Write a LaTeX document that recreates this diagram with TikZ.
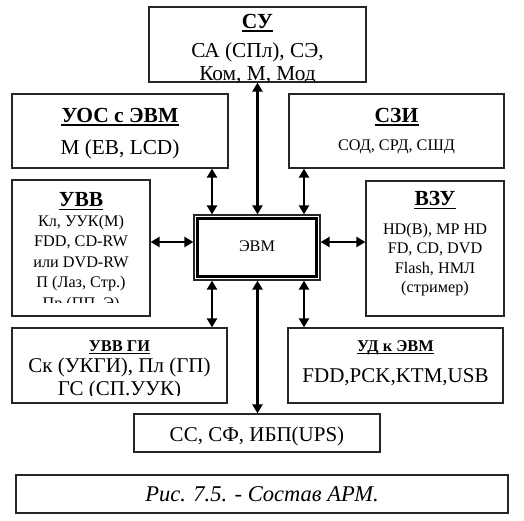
\documentclass[tikz,border=0pt]{standalone}
\usepackage{fontspec}
\setmainfont{Liberation Serif}
\usetikzlibrary{arrows.meta}
\begin{document}
\begin{tikzpicture}[x=1pt,y=-1pt,
  box/.style={draw=black!85, line width=1.2pt, fill=white, inner sep=0pt, rectangle},
  txt/.style={inner sep=0pt, anchor=base, text=black},
  big/.style={font=\fontsize{21.3}{25}\selectfont},
  mid/.style={font=\fontsize{21}{25}\selectfont},
  small/.style={font=\fontsize{16.2}{19}\selectfont},
  bigb/.style={font=\fontsize{21.5}{25}\selectfont\bfseries},
  smallb/.style={font=\fontsize{16.4}{19}\selectfont\bfseries},
  uline/.style={line width=1.6pt},
  ulinesm/.style={line width=1.2pt},
  arr/.style={line width=2.2pt, {Triangle[length=9pt,width=10pt]}-{Triangle[length=9pt,width=10pt]}}]
\useasboundingbox (0,0) rectangle (524,520);

% boxes
\node[box, minimum width=217pt, minimum height=75pt] (su) at (257.5,44.5) {};
\node[box, minimum width=216pt, minimum height=74pt] (uos) at (120,131) {};
\node[box, minimum width=215pt, minimum height=74pt] (szi) at (396.5,131) {};
\node[box, minimum width=138pt, minimum height=136pt] (uvv) at (81,248) {};
\node[box, minimum width=126pt, minimum height=65pt] (evm) at (257,247.5) {};
\node[box, minimum width=138pt, minimum height=135pt] (vzu) at (435,248.5) {};
\node[box, minimum width=215pt, minimum height=75pt] (uvvgi) at (119.5,365.5) {};
\node[box, minimum width=215pt, minimum height=75pt] (ud) at (395.5,365.5) {};
\node[box, minimum width=246pt, minimum height=38pt] (ss) at (257,433) {};
\node[box, minimum width=492pt, minimum height=38pt] (cap) at (262,494) {};

% inner thick frame of ЭВМ
\draw[line width=2.6pt, black] ([shift={(4,4)}]evm.north west) rectangle ([shift={(-4,-4)}]evm.south east);

% СУ
\node[txt, bigb] (sut) at (257.5,28) {СУ};
\draw[uline] ([yshift=-3pt]sut.base west) -- ([yshift=-3pt]sut.base east);
\begin{scope}
\clip (su.north west) rectangle (su.south east);
\node[txt, big] (su1) at (257.5,57) {СА (СПл), СЭ,};
\node[txt, big] (su2) at (257.5,80.5) {Ком, М, Мод};
\end{scope}

% УОС с ЭВМ
\node[txt, bigb] (uost) at (120,122) {УОС с ЭВМ};
\draw[uline] ([yshift=-3pt]uost.base west) -- ([yshift=-3pt]uost.base east);
\node[txt, big] (uos1) at (120,154) {М (ЕВ, LCD)};

% СЗИ
\node[txt, bigb] (szit) at (396.5,122) {СЗИ};
\draw[uline] ([yshift=-3pt]szit.base west) -- ([yshift=-3pt]szit.base east);
\node[txt, small] (szi1) at (396.5,150) {СОД, СРД, СШД};

% УВВ
\node[txt, bigb] (uvvt) at (81,206) {УВВ};
\draw[uline] ([yshift=-3.5pt]uvvt.base west) -- ([yshift=-3.5pt]uvvt.base east);
\begin{scope}
\clip (uvv.north west) rectangle ([yshift=14pt]uvv.south east);
\node[txt, small] (uvv1) at (81,226.5) {Кл, УУК(М)};
\node[txt, small] (uvv2) at (81,246.5) {FDD, CD-RW};
\node[txt, small] (uvv3) at (81,267) {или DVD-RW};
\node[txt, small] (uvv4) at (81,287.5) {П (Лаз, Стр.)};
\node[txt, small] (uvv5) at (81,308) {Пр (ПП, Э)};
\end{scope}

% ЭВМ
\node[txt, small] (evmt) at (257,251) {ЭВМ};

% ВЗУ
\node[txt, bigb] (vzut) at (435,205) {ВЗУ};
\draw[uline] ([yshift=-3.5pt]vzut.base west) -- ([yshift=-3.5pt]vzut.base east);
\node[txt, small] (vzu1) at (435,234) {HD(B), MP HD};
\node[txt, small] (vzu2) at (435,253.5) {FD, CD, DVD};
\node[txt, small] (vzu3) at (435,273) {Flash, НМЛ};
\node[txt, small] (vzu4) at (435,292.5) {(стример)};

% УВВ ГИ
\node[txt, smallb] (uvvgit) at (119.5,351) {УВВ ГИ};
\draw[ulinesm] ([yshift=-2.5pt]uvvgit.base west) -- ([yshift=-2.5pt]uvvgit.base east);
\begin{scope}
\clip (uvvgi.north west) rectangle ([yshift=8pt]uvvgi.south east);
\node[txt, mid] (uvvgi1) at (119.5,372.5) {Ск (УКГИ), Пл (ГП)};
\node[txt, mid] (uvvgi2) at (119.5,395) {ГС (СП.УУК)};
\end{scope}

% УД к ЭВМ
\node[txt, smallb] (udt) at (395.5,351) {УД к ЭВМ};
\draw[ulinesm] ([yshift=-2.5pt]udt.base west) -- ([yshift=-2.5pt]udt.base east);
\node[txt, mid] (ud1) at (395.5,382) {FDD,PCK,KTM,USB};

% СС
\node[txt, mid] (ss1) at (257,441.5) {СС, СФ, ИБП(UPS)};

% caption
\node[txt, font=\fontsize{22.5}{26}\selectfont\itshape] (cap1) at (262,501.5) {Рис. 7.5. - Состав АРМ.};

% connectors
\coordinate (lx) at (212,0);
\coordinate (mx) at (257.5,0);
\coordinate (rx) at (304,0);
\coordinate (hy) at (0,242);
\draw[arr] (su.south -| mx) -- (evm.north -| mx);
\draw[arr] (evm.south -| mx) -- (ss.north -| mx);
\draw[arr] (uos.south -| lx) -- (evm.north -| lx);
\draw[arr] (szi.south -| rx) -- (evm.north -| rx);
\draw[arr] (evm.south -| lx) -- (uvvgi.north -| lx);
\draw[arr] (evm.south -| rx) -- (ud.north -| rx);
\draw[arr] (uvv.east |- hy) -- (evm.west |- hy);
\draw[arr] (evm.east |- hy) -- (vzu.west |- hy);
\end{tikzpicture}
\end{document}
